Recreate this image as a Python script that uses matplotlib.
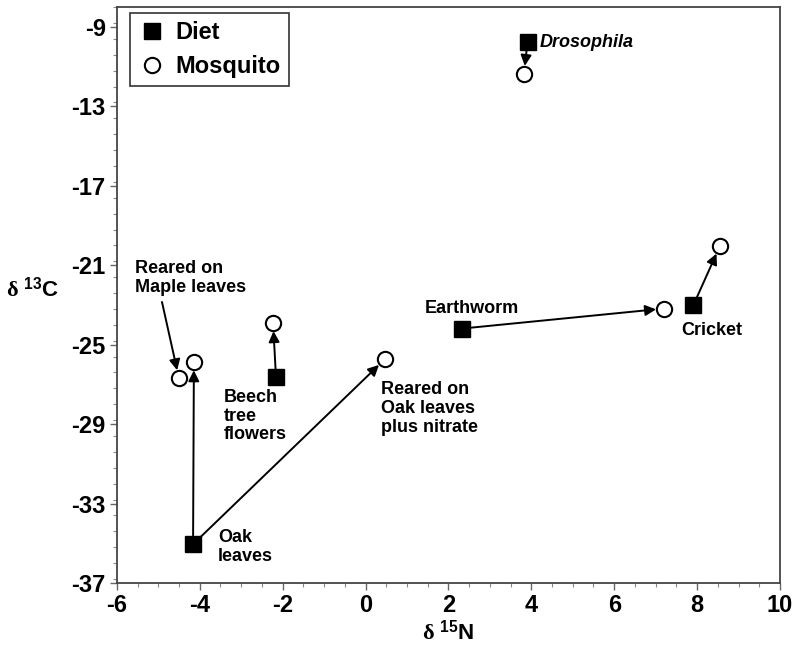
import matplotlib
matplotlib.use('Agg')
import matplotlib.pyplot as plt
from matplotlib.ticker import MultipleLocator
from matplotlib.lines import Line2D

plt.rcParams['font.family'] = ['Liberation Sans', 'DejaVu Sans']
plt.rcParams['font.weight'] = 'bold'
plt.rcParams['axes.unicode_minus'] = False
plt.rcParams['mathtext.fontset'] = 'custom'
plt.rcParams['mathtext.rm'] = 'Liberation Serif'
plt.rcParams['mathtext.bf'] = 'Liberation Sans:bold'
plt.rcParams['mathtext.it'] = 'Liberation Serif:italic'

# diet sources (filled squares)
diet_names = ['Drosophila', 'Cricket', 'Earthworm', 'Beech', 'Oak leaves']
diet_x = [3.91, 7.91, 2.32, -2.16, -4.16]
diet_y = [-9.76, -23.01, -24.19, -26.62, -35.05]

# mosquitoes (open circles)
mosq_names = ['Drosophila', 'Cricket', 'Earthworm', 'Beech', 'Oak leaves',
              'Oak + nitrate', 'Maple']
mosq_x = [3.82, 8.55, 7.21, -2.23, -4.14, 0.47, -4.50]
mosq_y = [-11.38, -20.03, -23.18, -23.90, -25.87, -25.73, -26.70]

# diet index -> mosquito index
links = [(0, 0), (1, 1), (2, 2), (3, 3), (4, 4), (4, 5)]

fig = plt.figure(figsize=(8, 6.47), dpi=100)
ax = fig.add_axes([0.146, 0.099, 0.829, 0.890])

for d, m in links:
    ax.annotate('', xy=(mosq_x[m], mosq_y[m]), xytext=(diet_x[d], diet_y[d]),
                arrowprops=dict(arrowstyle='-|>', color='black', lw=1.4,
                                mutation_scale=16, shrinkA=5, shrinkB=6))

# maple pointer from its label
ax.annotate('', xy=(mosq_x[6], mosq_y[6]), xytext=(-4.91, -22.85),
            arrowprops=dict(arrowstyle='-|>', color='black', lw=1.4,
                            mutation_scale=16, shrinkA=0, shrinkB=6))

ax.plot(diet_x, diet_y, 's', color='black', markersize=11.5, zorder=5)
ax.plot(mosq_x, mosq_y, 'o', markerfacecolor='white', markeredgecolor='black',
        markeredgewidth=1.5, markersize=11, zorder=5)

fs = 13
ls = 1.12
ax.text(4.21, -9.77, 'Drosophila', fontsize=fs, style='italic', va='center')
ax.text(1.43, -23.16, 'Earthworm', fontsize=fs, va='center')
ax.text(7.61, -24.31, 'Cricket', fontsize=fs, va='center')
ax.text(0.37, -26.85, 'Reared on\nOak leaves\nplus nitrate', fontsize=fs,
        va='top', linespacing=ls)
ax.text(-3.42, -27.25, 'Beech\ntree\nflowers', fontsize=fs, va='top',
        linespacing=ls)
ax.text(-3.56, -34.3, 'Oak\nleaves', fontsize=fs, va='top', linespacing=ls)
ax.text(-5.57, -20.75, 'Reared on\nMaple leaves', fontsize=fs, va='top',
        linespacing=ls)

ax.set_xlim(-6, 10)
ax.set_ylim(-37, -8)
ax.xaxis.set_major_locator(MultipleLocator(2))
ax.xaxis.set_minor_locator(MultipleLocator(0.5))
ax.set_yticks([-9, -13, -17, -21, -25, -29, -33, -37])
ax.yaxis.set_minor_locator(MultipleLocator(0.8))

for s in ax.spines.values():
    s.set_color('#444444')
    s.set_linewidth(1.3)
ax.tick_params(which='major', length=5, width=1, color='#666666',
               labelsize=17, pad=3)
ax.tick_params(which='minor', length=3, width=0.8, color='#888888')

ax.set_xlabel(r'$\mathrm{\delta}$ $^{\mathbf{15}}\mathbf{N}$', fontsize=16,
              labelpad=2)
ax.set_ylabel(r'$\mathrm{\delta}$ $^{\mathbf{13}}\mathbf{C}$', fontsize=16,
              rotation=0, va='center', ha='right')
ax.yaxis.set_label_coords(-0.087, 0.51)

handles = [
    Line2D([], [], marker='s', color='black', linestyle='none', markersize=11.5),
    Line2D([], [], marker='o', markerfacecolor='white', markeredgecolor='black',
           markeredgewidth=1.5, linestyle='none', markersize=11),
]
leg = ax.legend(handles, ['Diet', 'Mosquito'], loc='upper left',
                bbox_to_anchor=(0.0196, 0.9896), borderaxespad=0, fontsize=17,
                fancybox=False, edgecolor='#333333', framealpha=1,
                handletextpad=0.4, handlelength=1.2, borderpad=0.35,
                labelspacing=0.45)
leg.get_frame().set_linewidth(1.2)

fig.savefig('out.png', dpi=100)
